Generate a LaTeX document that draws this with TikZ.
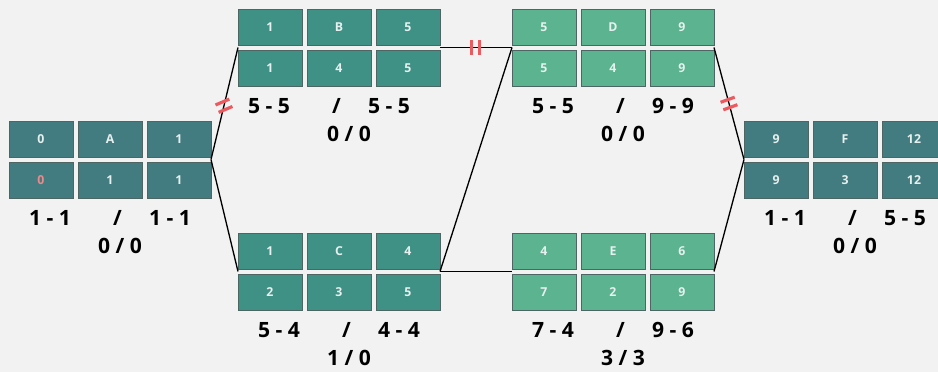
\documentclass[tikz,border=0pt]{standalone}
\usepackage{fontspec}
\setmainfont{Open Sans}
\usetikzlibrary{positioning}
\definecolor{pagegray}{HTML}{F2F2F2}
\definecolor{slateteal}{HTML}{437C80}
\definecolor{midteal}{HTML}{3F9186}
\definecolor{softgreen}{HTML}{5BB38F}
\definecolor{cellrim}{HTML}{4D6563}
\definecolor{celltext}{HTML}{E6F0EE}
\definecolor{floatpink}{HTML}{E98A8C}
\definecolor{critred}{HTML}{EB5A5F}

\tikzset{
  cell/.style={draw=cellrim, line width=0.4pt, minimum width=12.8mm, minimum height=7.2mm,
    inner sep=0pt, text=celltext, font=\fontsize{7}{8}\selectfont\bfseries},
  slack/.style={font=\fontsize{12}{14}\selectfont\bfseries, inner sep=0pt},
  link/.style={line width=0.75pt, black},
  critcut/.pic={\draw[critred, line width=1.8pt] (-4,-7.5) -- (-4,7.5) (4,-7.5) -- (4,7.5);}
}

\begin{document}
\begin{tikzpicture}[x=0.2mm, y=-0.2mm]
  \useasboundingbox (0,0) rectangle (938,372);
  \clip (0,0) rectangle (938,372);
  \fill[pagegray] (0,0) rectangle (938,372);

  % --- Activity cells: early start, name, early finish / late start, duration, late finish ---
  \foreach \act/\x/\y/\tone/\es/\ef/\ls/\du/\lf in {
      A/9/121/slateteal/0/1/{\color{floatpink}0}/1/1,
      B/238/9/midteal/1/5/1/4/5,
      C/238/233/midteal/1/4/2/3/5,
      D/512/9/softgreen/5/9/5/4/9,
      E/512/233/softgreen/4/6/7/2/9,
      F/744/121/slateteal/9/12/9/3/12}{
    \node[cell, fill=\tone] (\act-es) at (\x+32, \y+18) {\es};
    \node[cell, fill=\tone] (\act-id) at (\x+101, \y+18) {\act};
    \node[cell, fill=\tone] (\act-ef) at (\x+170, \y+18) {\ef};
    \node[cell, fill=\tone] (\act-ls) at (\x+32, \y+59) {\ls};
    \node[cell, fill=\tone] (\act-du) at (\x+101, \y+59) {\du};
    \node[cell, fill=\tone] (\act-lf) at (\x+170, \y+59) {\lf};
    \coordinate (\act-in)  at (\x, \y+38.5);
    \coordinate (\act-out) at (\x+202, \y+38.5);
  }

  % --- Span and float figures under each activity ---
  \foreach \act/\lo/\hi/\fl/\dx in {
      A/{1 - 1}/{1 - 1}/{0 / 0}/0,
      B/{5 - 5}/{5 - 5}/{0 / 0}/-2,
      C/{5 - 4}/{4 - 4}/{1 / 0}/0,
      D/{5 - 5}/{9 - 9}/{0 / 0}/0,
      E/{7 - 4}/{9 - 6}/{3 / 3}/0,
      F/{1 - 1}/{5 - 5}/{0 / 0}/0}{
    \node[slack] (\act-span) at ([xshift=\dx mm, yshift=-4mm]\act-du.south)
      {\lo\hspace{2em}/\hspace{1.3em}\hi};
    \node[slack] (\act-float) at ([xshift=2mm, yshift=-9.6mm]\act-du.south) {\fl};
  }

  % --- Links between activities ---
  \draw[link] (A-out) -- coordinate[pos=0.48] (AB-cut) (B-in);
  \draw[link] (A-out) -- (C-in);
  \draw[link] (B-out) -- coordinate[pos=0.49] (BD-cut) (D-in);
  \draw[link] (C-out) -- (D-in);
  \draw[link] (C-out) -- (E-in);
  \draw[link] (D-out) -- coordinate[pos=0.5] (DF-cut) (F-in);
  \draw[link] (E-out) -- (F-in);

  % --- Critical path marks ---
  \pic[rotate=-67] at (AB-cut) {critcut};
  \pic at (BD-cut) {critcut};
  \pic[rotate=-70] at (DF-cut) {critcut};
\end{tikzpicture}
\end{document}
